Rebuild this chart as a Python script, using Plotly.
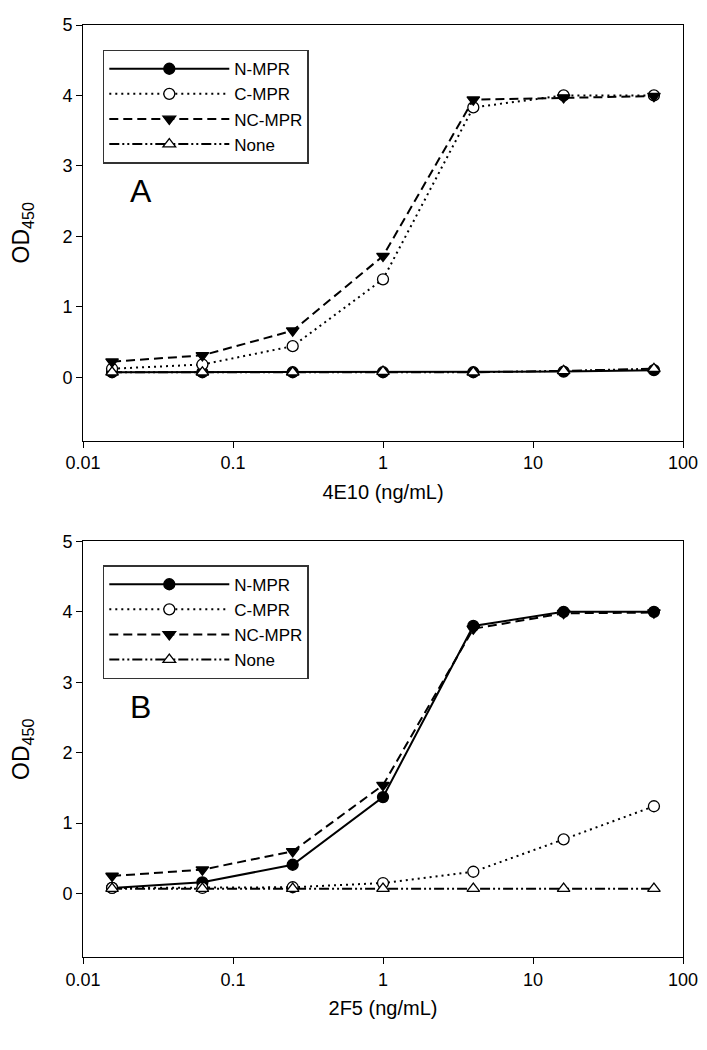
import plotly.graph_objects as go

conc = [0.015625, 0.0625, 0.25, 1, 4, 16, 64]
series_names = ["N-MPR", "C-MPR", "NC-MPR", "None"]

a_nmpr = [0.07, 0.07, 0.07, 0.07, 0.07, 0.08, 0.10]
a_cmpr = [0.12, 0.18, 0.44, 1.39, 3.83, 4.00, 4.00]
a_ncmpr = [0.22, 0.31, 0.66, 1.72, 3.94, 3.97, 3.99]
a_none = [0.07, 0.07, 0.07, 0.08, 0.07, 0.09, 0.12]

b_nmpr = [0.08, 0.16, 0.41, 1.37, 3.80, 4.00, 4.00]
b_cmpr = [0.08, 0.08, 0.09, 0.15, 0.31, 0.77, 1.24]
b_ncmpr = [0.25, 0.34, 0.60, 1.54, 3.76, 3.98, 3.99]
b_none = [0.07, 0.07, 0.07, 0.07, 0.07, 0.07, 0.07]

x_tickvals = [0.01, 0.1, 1, 10, 100]
x_ticktext = ["0.01", "0.1", "1", "10", "100"]
y_tickvals = [0, 1, 2, 3, 4, 5]

styles = {
    "N-MPR": dict(dash="solid", symbol="circle", fill="black"),
    "C-MPR": dict(dash="2px,4px", symbol="circle", fill="white"),
    "NC-MPR": dict(dash="9px,5px", symbol="triangle-down", fill="black"),
    "None": dict(dash="10px,3px,2px,3px,2px,3px", symbol="triangle-up", fill="white"),
}

fig = go.Figure()

panels = [
    ("x", "y", "legend", [a_nmpr, a_cmpr, a_ncmpr, a_none]),
    ("x2", "y2", "legend2", [b_nmpr, b_cmpr, b_ncmpr, b_none]),
]
for xa, ya, lg, data in panels:
    for name, vals in zip(series_names, data):
        st = styles[name]
        fig.add_trace(go.Scatter(
            x=conc, y=vals, name=name, xaxis=xa, yaxis=ya, legend=lg,
            mode="lines+markers",
            line=dict(color="black", width=2, dash=st["dash"]),
            marker=dict(symbol=st["symbol"], size=11, color=st["fill"],
                        line=dict(color="black", width=1.3)),
        ))

font_family = "Liberation Sans, Arial, sans-serif"
xcommon = dict(type="log", range=[-2, 2], tickvals=x_tickvals, ticktext=x_ticktext,
               showgrid=False, zeroline=False, showline=True, linecolor="black",
               linewidth=1, mirror=True, ticks="outside", ticklen=6, tickcolor="black",
               tickfont=dict(size=18, color="black", family=font_family))
ycommon = dict(range=[-0.9, 5], tickvals=y_tickvals, showgrid=False, zeroline=False,
               showline=True, linecolor="black", linewidth=1, mirror=True,
               ticks="outside", ticklen=6, tickcolor="black",
               tickfont=dict(size=18, color="black", family=font_family))

legcommon = dict(bgcolor="white", bordercolor="#333", borderwidth=1.5,
                 font=dict(size=17, color="black", family=font_family),
                 itemwidth=120, xanchor="left", yanchor="top", tracegroupgap=0)

fig.update_layout(
    width=699, height=1042,
    margin=dict(l=75, r=24, t=7, b=93),
    paper_bgcolor="white", plot_bgcolor="white",
    font=dict(family=font_family, color="black"),
    xaxis=dict(**xcommon, domain=[0, 1], anchor="y",
               title=dict(text="4E10 (ng/mL)", font=dict(size=20), standoff=12)),
    yaxis=dict(**ycommon, domain=[0.5541, 1], anchor="x",
               title=dict(text="OD<sub>450</sub>", font=dict(size=23), standoff=26)),
    xaxis2=dict(**xcommon, domain=[0, 1], anchor="y2",
                title=dict(text="2F5 (ng/mL)", font=dict(size=20), standoff=12)),
    yaxis2=dict(**ycommon, domain=[0, 0.4459], anchor="x2",
                title=dict(text="OD<sub>450</sub>", font=dict(size=23), standoff=26)),
    legend=dict(**legcommon, x=0.033, y=0.9735),
    legend2=dict(**legcommon, x=0.033, y=0.4204),
    annotations=[
        dict(text="A", x=-1.7, y=2.65, xref="x", yref="y", showarrow=False,
             xanchor="left", font=dict(size=32, color="black")),
        dict(text="B", x=-1.7, y=2.65, xref="x2", yref="y2", showarrow=False,
             xanchor="left", font=dict(size=32, color="black")),
    ],
)

fig.write_html("out.html")
